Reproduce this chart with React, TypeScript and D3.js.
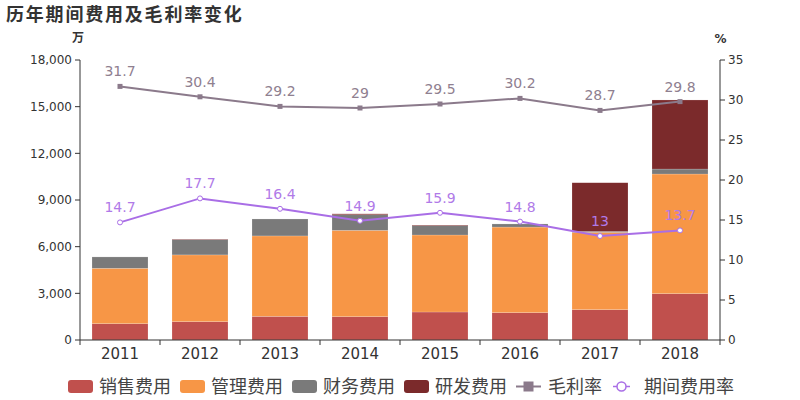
import React from "react";
import * as d3 from "d3";

const years = ["2011", "2012", "2013", "2014", "2015", "2016", "2017", "2018"];
const sales = [1050, 1180, 1520, 1500, 1800, 1760, 1950, 2980];
const admin = [3560, 4290, 5170, 5550, 4950, 5500, 4970, 7690];
const finance = [730, 980, 1090, 1000, 600, 200, 60, 320];
const rnd = [0, 30, 0, 60, 40, 0, 3130, 4440];
const grossMargin = [31.7, 30.4, 29.2, 29, 29.5, 30.2, 28.7, 29.8];
const expenseRate = [14.7, 17.7, 16.4, 14.9, 15.9, 14.8, 13, 13.7];
const leftTicks = [0, 3000, 6000, 9000, 12000, 15000, 18000];
const rightTicks = [0, 5, 10, 15, 20, 25, 30, 35];

const seriesNames = ["销售费用", "管理费用", "财务费用", "研发费用"];
const seriesColors = ["#c0504d", "#f79646", "#7a7a7a", "#7b2a2b"];
const marginColor = "#8b7a8b";
const marginLabelColor = "#8f8090";
const rateColor = "#a96ee6";
const rateLabelColor = "#b07ae8";

const W = 800;
const H = 400;
const M = { left: 80, right: 80, top: 60, bottom: 60 };
const FONT = "'DejaVu Sans', 'Noto Sans CJK SC', sans-serif";
const CJK = "'Noto Sans CJK SC', 'DejaVu Sans', sans-serif";

export default function App() {
  const x = d3
    .scaleBand<string>()
    .domain(years)
    .range([M.left, W - M.right])
    .paddingInner(0.3)
    .paddingOuter(0.15);
  const yL = d3.scaleLinear().domain([0, 18000]).range([H - M.bottom, M.top]);
  const yR = d3.scaleLinear().domain([0, 35]).range([H - M.bottom, M.top]);

  const table = years.map((y, i) => ({
    year: y,
    s0: sales[i],
    s1: admin[i],
    s2: finance[i],
    s3: rnd[i],
  }));
  const stack = d3.stack<any>().keys(["s0", "s1", "s2", "s3"]);
  const layers = stack(table);

  const cx = (y: string) => (x(y) as number) + x.bandwidth() / 2;
  const lineGen = d3
    .line<number>()
    .x((_, i) => cx(years[i]))
    .y((d) => yR(d));
  const boundaries = d3
    .range(years.length + 1)
    .map((i) => M.left + i * ((W - M.left - M.right) / years.length));

  const legendItems = [
    ...seriesNames.map((n, i) => ({ name: n, kind: "rect", color: seriesColors[i] })),
    { name: "毛利率", kind: "square", color: marginColor },
    { name: "期间费用率", kind: "circle", color: rateColor },
  ];
  const fs = 18;
  let lx = 68;
  const legendPos = legendItems.map((it) => {
    const start = lx;
    const textX = start + (it.kind === "square" ? 32 : 31);
    const w = textX - start + it.name.length * fs + (it.kind === "rect" ? 9 : 11);
    lx += w;
    return { ...it, start, textX };
  });
  const ly = 386.5;
  const y0 = H - M.bottom;

  return (
    <svg
      width={W}
      height={H}
      style={{ position: "absolute", left: 0, top: 0, background: "#fff" }}
    >
      <text
        x={6}
        y={21}
        fontFamily={CJK}
        fontWeight="bold"
        fontSize={18}
        letterSpacing={1.8}
        fill="#333"
      >
        历年期间费用及毛利率变化
      </text>
      <text x={78} y={42} textAnchor="middle" fontFamily={CJK} fontWeight="bold" fontSize={12} fill="#333">
        万
      </text>
      <text x={720.5} y={43} textAnchor="middle" fontFamily={FONT} fontWeight="bold" fontSize={12} fill="#333">
        %
      </text>

      {layers.map((layer, li) => (
        <g key={li} fill={seriesColors[li]}>
          {layer.map((d, i) =>
            d[1] - d[0] > 0 ? (
              <rect
                key={i}
                x={x(years[i])}
                width={x.bandwidth()}
                y={yL(d[1])}
                height={yL(d[0]) - yL(d[1])}
                stroke="rgba(255,255,255,0.35)"
                strokeWidth={0.5}
              />
            ) : null
          )}
        </g>
      ))}

      <g fontFamily={FONT} fontSize={12} fill="#333">
        <line x1={M.left} x2={M.left} y1={M.top} y2={y0} stroke="#333" />
        {leftTicks.map((t) => (
          <g key={t}>
            <line x1={M.left - 5} x2={M.left} y1={yL(t)} y2={yL(t)} stroke="#333" />
            <text x={M.left - 8} y={yL(t)} dy="0.35em" textAnchor="end">
              {d3.format(",")(t)}
            </text>
          </g>
        ))}
      </g>
      <g fontFamily={FONT} fontSize={12} fill="#333">
        <line x1={W - M.right} x2={W - M.right} y1={M.top} y2={y0} stroke="#333" />
        {rightTicks.map((t) => (
          <g key={t}>
            <line x1={W - M.right} x2={W - M.right + 5} y1={yR(t)} y2={yR(t)} stroke="#333" />
            <text x={W - M.right + 8} y={yR(t)} dy="0.35em" textAnchor="start">
              {t}
            </text>
          </g>
        ))}
      </g>
      <g fontFamily={FONT} fontSize={15} fill="#333">
        <line x1={M.left} x2={W - M.right} y1={y0} y2={y0} stroke="#333" />
        {boundaries.map((b, i) => (
          <line key={i} x1={b} x2={b} y1={y0} y2={y0 + 5} stroke="#333" />
        ))}
        {years.map((yr) => (
          <text key={yr} x={cx(yr)} y={y0 + 19} textAnchor="middle">
            {yr}
          </text>
        ))}
      </g>

      <path d={lineGen(grossMargin) || ""} fill="none" stroke={marginColor} strokeWidth={2} />
      {grossMargin.map((v, i) => (
        <g key={i}>
          <rect x={cx(years[i]) - 2.5} y={yR(v) - 2.5} width={5} height={5} fill={marginColor} />
          <text
            x={cx(years[i])}
            y={yR(v) - 10}
            textAnchor="middle"
            fontFamily={FONT}
            fontSize={14}
            fill={marginLabelColor}
          >
            {v}
          </text>
        </g>
      ))}

      <path d={lineGen(expenseRate) || ""} fill="none" stroke={rateColor} strokeWidth={2} />
      {expenseRate.map((v, i) => (
        <g key={i}>
          <circle cx={cx(years[i])} cy={yR(v)} r={2.5} fill="#fff" stroke={rateColor} strokeWidth={1} />
          <text
            x={cx(years[i])}
            y={yR(v) - 10}
            textAnchor="middle"
            fontFamily={FONT}
            fontSize={14}
            fill={rateLabelColor}
          >
            {v}
          </text>
        </g>
      ))}

      <g>
        {legendPos.map((it, i) => (
          <g key={i}>
            {it.kind === "rect" && (
              <rect x={it.start} y={ly - 6.5} width={25} height={13} rx={3} fill={it.color} />
            )}
            {it.kind === "square" && (
              <g>
                <line x1={it.start} x2={it.start + 25} y1={ly} y2={ly} stroke={it.color} strokeWidth={2} />
                <rect x={it.start + 7.5} y={ly - 5} width={10} height={10} fill={it.color} />
              </g>
            )}
            {it.kind === "circle" && (
              <g>
                <line x1={it.start} x2={it.start + 17} y1={ly} y2={ly} stroke={it.color} strokeWidth={1.5} />
                <circle cx={it.start + 8.5} cy={ly} r={4.5} fill="#fff" stroke={it.color} strokeWidth={1.5} />
              </g>
            )}
            <text x={it.textX} y={ly} dy="0.35em" fontFamily={CJK} fontSize={fs} fill="#444">
              {it.name}
            </text>
          </g>
        ))}
      </g>
    </svg>
  );
}
